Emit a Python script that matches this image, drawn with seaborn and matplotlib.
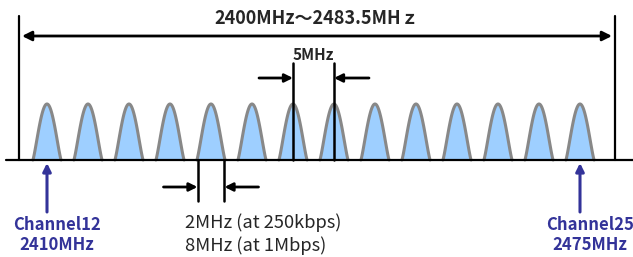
import numpy as np
import pandas as pd
import matplotlib.pyplot as plt
import seaborn as sns

# IEEE 802.15.4 channels in the 2.4 GHz band (schematic)
channels = list(range(12, 26))
center_mhz = [2410, 2415, 2420, 2425, 2430, 2435, 2440,
              2445, 2450, 2455, 2460, 2465, 2470, 2475]
band_label = "2400MHz～2483.5MHｚ"
spacing_label = "5MHz"
spacing_pair = [18, 19]
width_channel = 16
width_labels = ["2MHz (at 250kbps)", "8MHz (at 1Mbps)"]
marked_channels = [12, 25]
marked_labels = ["Channel12\n2410MHz", "Channel25\n2475MHz"]

# drawing scale: 8.2 px per MHz, channel 12 at pixel 47, baseline at pixel 160
PX_PER_MHZ = 8.2


def fx(px):
    return 2410 + (px - 47) / PX_PER_MHZ


def fy(py):
    return 160 - py


BLUE = "#333399"
FONT = ["Noto Sans CJK JP", "DejaVu Sans"]

sns.set_theme(style="white")
plt.rcParams["font.family"] = FONT

fig = plt.figure(figsize=(6.33, 2.57), dpi=100)
ax = fig.add_axes([0, 0, 1, 1])
ax.set_xlim(fx(0), fx(633))
ax.set_ylim(fy(257), fy(0))
ax.axis("off")

# channel bumps
half_w = 1.72
height = 56
t = np.linspace(-1, 1, 81)
rows = []
for ch, c in zip(channels, center_mhz):
    for v in t:
        rows.append({"channel": ch, "mhz": c + v * half_w, "level": height * np.cos(np.pi / 2 * v) ** 1.2})
bumps = pd.DataFrame(rows)
for ch, grp in bumps.groupby("channel"):
    ax.fill_between(grp["mhz"], 0, grp["level"], color="#9ECFFF", lw=0, zorder=1)
sns.lineplot(data=bumps, x="mhz", y="level", units="channel", estimator=None,
             color="#888888", lw=2.2, ax=ax, zorder=2, legend=False)

# baseline
ax.plot([fx(6), fx(633)], [0, 0], color="black", lw=1.6, zorder=3)

# band edges
for px in (19, 615):
    ax.plot([fx(px), fx(px)], [0, fy(16)], color="black", lw=1.6, zorder=3)
ax.annotate("", xy=(fx(22), fy(36)), xytext=(fx(612), fy(36)),
            arrowprops=dict(arrowstyle="<|-|>", color="black", lw=2, mutation_scale=14,
                            shrinkA=0, shrinkB=0))
ax.text(fx(317), fy(18), band_label, ha="center", va="center", fontsize=13,
        fontweight="bold", family=FONT)

# 5 MHz spacing
c1 = center_mhz[channels.index(spacing_pair[0])]
c2 = center_mhz[channels.index(spacing_pair[1])]
for c in (c1, c2):
    ax.plot([c, c], [0, fy(63)], color="black", lw=1.8, zorder=3)
ax.annotate("", xy=(c1, fy(78)), xytext=(c1 - 34 / PX_PER_MHZ, fy(78)),
            arrowprops=dict(arrowstyle="-|>", color="black", lw=2, mutation_scale=12,
                            shrinkA=0, shrinkB=0))
ax.annotate("", xy=(c2, fy(78)), xytext=(c2 + 35 / PX_PER_MHZ, fy(78)),
            arrowprops=dict(arrowstyle="-|>", color="black", lw=2, mutation_scale=12,
                            shrinkA=0, shrinkB=0))
ax.text((c1 + c2) / 2, fy(55), spacing_label, ha="center", va="center", fontsize=11,
        fontweight="bold", family=FONT)

# channel width
cw = center_mhz[channels.index(width_channel)]
e1, e2 = cw - 13.5 / PX_PER_MHZ, cw + 13.5 / PX_PER_MHZ
for e in (e1, e2):
    ax.plot([e, e], [0, fy(201)], color="black", lw=1.8, zorder=3)
ax.annotate("", xy=(e1, fy(187)), xytext=(e1 - 34 / PX_PER_MHZ, fy(187)),
            arrowprops=dict(arrowstyle="-|>", color="black", lw=2, mutation_scale=12,
                            shrinkA=0, shrinkB=0))
ax.annotate("", xy=(e2, fy(187)), xytext=(e2 + 34 / PX_PER_MHZ, fy(187)),
            arrowprops=dict(arrowstyle="-|>", color="black", lw=2, mutation_scale=12,
                            shrinkA=0, shrinkB=0))
for i, lab in enumerate(width_labels):
    ax.text(fx(185), fy(223 + 23 * i), lab, ha="left", va="center", fontsize=13.2,
            family=FONT)

# marked channels
for ch, lab, dx in zip(marked_channels, marked_labels, (10, 10)):
    c = center_mhz[channels.index(ch)]
    ax.annotate("", xy=(c, fy(163)), xytext=(c, fy(212)),
                arrowprops=dict(arrowstyle="-|>", color=BLUE, lw=2.2, mutation_scale=12,
                                shrinkA=0, shrinkB=0))
    ax.text(c + dx / PX_PER_MHZ, fy(235), lab, ha="center", va="center", fontsize=12,
            fontweight="bold", color=BLUE, linespacing=1.2, family=FONT)

fig.savefig("out.png", dpi=100)
